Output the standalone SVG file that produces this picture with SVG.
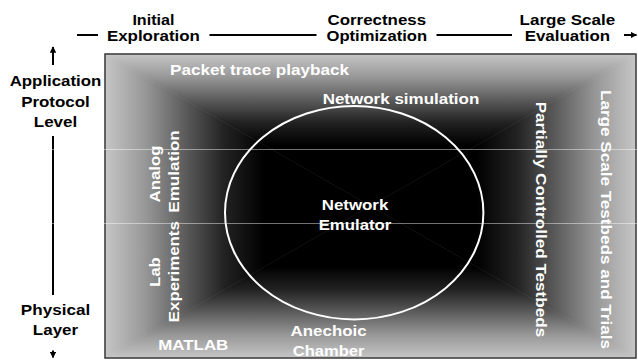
<svg xmlns="http://www.w3.org/2000/svg" width="638" height="360" viewBox="0 0 638 360">
  <style>
    text { font-family: "Liberation Sans", Arial, sans-serif; font-weight: bold; font-size: 15.5px; text-anchor: middle; }
    .dark { fill: #000; }
    .light { fill: #fff; }
    .axis { stroke: #000; stroke-width: 2; fill: none; }
    .seam { stroke: #fff; stroke-opacity: 0.45; stroke-width: 1; }
  </style>
  <defs>
    <marker id="arrow" viewBox="0 0 10 10" refX="9" refY="5" markerWidth="3.2" markerHeight="3.2" orient="auto" markerUnits="strokeWidth">
      <path d="M0,0 L10,5 L0,10 z" fill="#000"/>
    </marker>
    <linearGradient id="gTop" gradientUnits="userSpaceOnUse" x1="0" y1="54" x2="0" y2="206">
      <stop offset="0" stop-color="#c6c6c6"/>
      <stop offset="0.15" stop-color="#989898"/>
      <stop offset="0.3" stop-color="#5c5c5c"/>
      <stop offset="0.45" stop-color="#222"/>
      <stop offset="0.6" stop-color="#000"/>
    </linearGradient>
    <linearGradient id="gBottom" gradientUnits="userSpaceOnUse" x1="0" y1="358" x2="0" y2="206">
      <stop offset="0" stop-color="#c6c6c6"/>
      <stop offset="0.15" stop-color="#989898"/>
      <stop offset="0.3" stop-color="#5c5c5c"/>
      <stop offset="0.45" stop-color="#222"/>
      <stop offset="0.6" stop-color="#000"/>
    </linearGradient>
    <linearGradient id="gLeft" gradientUnits="userSpaceOnUse" x1="105" y1="0" x2="370.5" y2="0">
      <stop offset="0" stop-color="#c6c6c6"/>
      <stop offset="0.15" stop-color="#989898"/>
      <stop offset="0.3" stop-color="#5c5c5c"/>
      <stop offset="0.45" stop-color="#222"/>
      <stop offset="0.6" stop-color="#000"/>
    </linearGradient>
    <linearGradient id="gRight" gradientUnits="userSpaceOnUse" x1="636" y1="0" x2="370.5" y2="0">
      <stop offset="0" stop-color="#c6c6c6"/>
      <stop offset="0.15" stop-color="#989898"/>
      <stop offset="0.3" stop-color="#5c5c5c"/>
      <stop offset="0.45" stop-color="#222"/>
      <stop offset="0.6" stop-color="#000"/>
    </linearGradient>
  </defs>

  <rect width="638" height="360" fill="#fff"/>

  <!-- background panel with rectangular gradient -->
  <g id="panel">
    <polygon points="105,54 636,54 370.5,206" fill="url(#gTop)" stroke="url(#gTop)" stroke-width="0.6"/>
    <polygon points="105,358 636,358 370.5,206" fill="url(#gBottom)" stroke="url(#gBottom)" stroke-width="0.6"/>
    <polygon points="105,54 105,358 370.5,206" fill="url(#gLeft)" stroke="url(#gLeft)" stroke-width="0.6"/>
    <polygon points="636,54 636,358 370.5,206" fill="url(#gRight)" stroke="url(#gRight)" stroke-width="0.6"/>
    <rect x="105" y="54" width="531" height="304" fill="none" stroke="#3a3a3a" stroke-width="1.5"/>
  </g>

  <!-- connectors: axes -->
  <g id="connectors">
    <line class="axis" x1="77" y1="35" x2="98" y2="35"/>
    <line class="axis" x1="209.5" y1="35" x2="316.5" y2="35"/>
    <line class="axis" x1="436.5" y1="35" x2="512" y2="35"/>
    <line class="axis" x1="624" y1="35" x2="636.5" y2="35" marker-end="url(#arrow)"/>
    <line class="axis" x1="53" y1="65" x2="53" y2="47" marker-end="url(#arrow)"/>
    <line class="axis" x1="53" y1="136" x2="53" y2="295"/>
    <line class="axis" x1="53" y1="350.5" x2="53" y2="357.5" marker-end="url(#arrow)"/>
  </g>

  <!-- stage headings -->
  <g id="stage-initial">
    <text class="dark" x="153.4" y="24.5" textLength="42" lengthAdjust="spacingAndGlyphs">Initial</text>
    <text class="dark" x="153.4" y="41" textLength="93" lengthAdjust="spacingAndGlyphs">Exploration</text>
  </g>
  <g id="stage-correctness">
    <text class="dark" x="376.8" y="24.5" textLength="98.5" lengthAdjust="spacingAndGlyphs">Correctness</text>
    <text class="dark" x="376.8" y="41" textLength="100.5" lengthAdjust="spacingAndGlyphs">Optimization</text>
  </g>
  <g id="stage-large">
    <text class="dark" x="567.4" y="24.5" textLength="95.6" lengthAdjust="spacingAndGlyphs">Large Scale</text>
    <text class="dark" x="567.4" y="41" textLength="85.5" lengthAdjust="spacingAndGlyphs">Evaluation</text>
  </g>

  <!-- layer labels -->
  <g id="level-application">
    <text class="dark" x="55.5" y="86" textLength="91.7" lengthAdjust="spacingAndGlyphs">Application</text>
    <text class="dark" x="55.5" y="107" textLength="68.7" lengthAdjust="spacingAndGlyphs">Protocol</text>
    <text class="dark" x="55.5" y="127" textLength="43.5" lengthAdjust="spacingAndGlyphs">Level</text>
  </g>
  <g id="level-physical">
    <text class="dark" x="55.5" y="315" textLength="69.3" lengthAdjust="spacingAndGlyphs">Physical</text>
    <text class="dark" x="55.5" y="335" textLength="45.3" lengthAdjust="spacingAndGlyphs">Layer</text>
  </g>

  <!-- techniques -->
  <g id="packet-trace">
    <text class="light" x="259.5" y="75" textLength="179" lengthAdjust="spacingAndGlyphs">Packet trace playback</text>
  </g>
  <g id="network-simulation">
    <text class="light" x="401" y="104" textLength="156.7" lengthAdjust="spacingAndGlyphs">Network simulation</text>
  </g>
  <g id="network-emulator">
    <ellipse cx="354.2" cy="212.7" rx="129.2" ry="106.7" fill="none" stroke="#fff" stroke-width="2"/>
    <text class="light" x="355" y="210" textLength="66.6" lengthAdjust="spacingAndGlyphs">Network</text>
    <text class="light" x="355" y="230" textLength="72.7" lengthAdjust="spacingAndGlyphs">Emulator</text>
  </g>
  <g id="analog-emulation">
    <text class="light" x="159.5" y="174" transform="rotate(-90 159.5 174)" textLength="57" lengthAdjust="spacingAndGlyphs">Analog</text>
    <text class="light" x="179" y="171.5" transform="rotate(-90 179 171.5)" textLength="82.5" lengthAdjust="spacingAndGlyphs">Emulation</text>
  </g>
  <g id="lab-experiments">
    <text class="light" x="159.5" y="272" transform="rotate(-90 159.5 272)" textLength="29.5" lengthAdjust="spacingAndGlyphs">Lab</text>
    <text class="light" x="179" y="271.7" transform="rotate(-90 179 271.7)" textLength="101" lengthAdjust="spacingAndGlyphs">Experiments</text>
  </g>
  <g id="matlab">
    <text class="light" x="193.3" y="350" textLength="70" lengthAdjust="spacingAndGlyphs">MATLAB</text>
  </g>
  <g id="anechoic-chamber">
    <text class="light" x="328.6" y="336" textLength="76" lengthAdjust="spacingAndGlyphs">Anechoic</text>
    <text class="light" x="328.6" y="355.5" textLength="71.6" lengthAdjust="spacingAndGlyphs">Chamber</text>
  </g>
  <g id="partially-controlled">
    <text class="light" x="536" y="219.5" transform="rotate(90 536 219.5)" textLength="235.6" lengthAdjust="spacingAndGlyphs">Partially Controlled Testbeds</text>
  </g>
  <g id="large-scale-testbeds">
    <text class="light" x="601" y="219.5" transform="rotate(90 601 219.5)" textLength="259" lengthAdjust="spacingAndGlyphs">Large Scale Testbeds and Trials</text>
  </g>

  <!-- faint horizontal rule lines -->
  <line class="seam" x1="0" y1="149.5" x2="638" y2="149.5"/>
  <line class="seam" x1="0" y1="223.5" x2="638" y2="223.5"/>
</svg>
